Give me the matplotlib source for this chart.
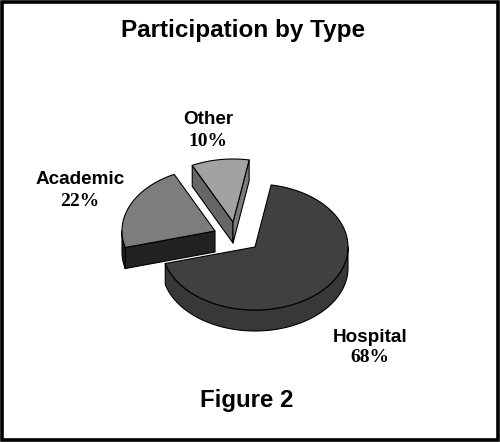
# -*- coding: utf-8 -*-
import matplotlib
matplotlib.use('Agg')
import matplotlib.pyplot as plt
from matplotlib.patches import Rectangle
import numpy as np

categories = ['Hospital', 'Academic', 'Other']
values = [68, 22, 10]
pct_labels = ['68%', '22%', '10%']

top_colors = ['#404040', '#7d7d7d', '#a2a2a2']
wall_colors = ['#383838', '#222222', '#666666']
end_colors = ['#383838', '#222222', '#7c7c7c']
# which cut faces can be seen: (first edge, last edge)
show_cuts = [(False, False), (True, False), (True, True)]
shift_x = [0, -40, -22]
shift_y = [0, -16, -25]
label_xy = [(370, 337), (80, 180), (208, 120)]

cx, cy = 255, 247
rx, ry = 93, 63
depth = 21
start = 80
lw = 0.8

fig = plt.figure(figsize=(5, 4.42), dpi=100)
ax = fig.add_axes([0, 0, 1, 1])
ax.set_xlim(0, 500)
ax.set_ylim(442, 0)
ax.axis('off')

ax.add_patch(Rectangle((1.75, 1.75), 496, 438.5, fc='white', ec='black', lw=2.6))

# slice angles, clockwise from the start angle
sweep = np.array(values) / sum(values) * 360
ends = start - np.cumsum(sweep)
starts = ends + sweep


def rim(a0, a1, x0, y0):
    t = np.radians(np.linspace(a0, a1, 120))
    return x0 + rx * np.cos(t), y0 - ry * np.sin(t)


def poly(x, y, color):
    ax.fill(x, y, facecolor=color, edgecolor='black', linewidth=lw, joinstyle='round')


# back to front: other, hospital, academic
for i in [2, 0, 1]:
    x0, y0 = cx + shift_x[i], cy + shift_y[i]
    a0, a1 = starts[i], ends[i]

    # cut faces
    for a, show, col in zip([a0, a1], show_cuts[i], [wall_colors[i], end_colors[i]]):
        if show:
            ex, ey = rim(a, a, x0, y0)
            poly([x0, ex[0], ex[0], x0], [y0, ey[0], ey[0] + depth, y0 + depth], col)

    # outer wall, only the part facing the viewer (-180 to 0)
    lo, hi = max(a1, -180), min(a0, 0)
    if hi > lo:
        wx, wy = rim(lo, hi, x0, y0)
        poly(np.r_[wx, wx[::-1]], np.r_[wy, wy[::-1] + depth], wall_colors[i])

    # top face
    tx, ty = rim(a0, a1, x0, y0)
    poly(np.r_[x0, tx], np.r_[y0, ty], top_colors[i])

ax.text(243, 30, 'Participation by Type', ha='center', va='center', fontsize=17.5,
        fontweight='bold', family='Liberation Sans', color='black')
ax.text(247, 400, 'Figure 2', ha='center', va='center', fontsize=17.3,
        fontweight='bold', family='Liberation Sans', color='black')

for name, pct, (lx, ly) in zip(categories, pct_labels, label_xy):
    ax.text(lx, ly, name, ha='center', va='center', fontsize=13.6,
            fontweight='bold', family='Liberation Sans', color='black')
    ax.text(lx, ly + 21, pct, ha='center', va='center', fontsize=14,
            fontweight='bold', family='Liberation Serif', color='black')

plt.savefig('out.png', dpi=100)
